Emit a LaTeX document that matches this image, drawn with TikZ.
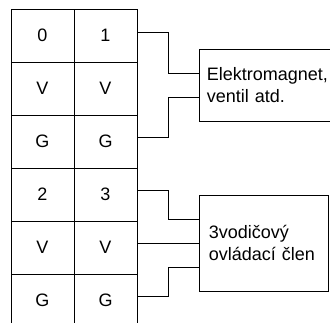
\documentclass[tikz,border=0pt]{standalone}
\usepackage{fontspec}
\setmainfont{Liberation Sans}
\usepackage{tikz}

\begin{document}
\begin{tikzpicture}[x=1pt, y=-1pt, line width=0.7pt,
    cell/.style={rectangle, draw, minimum width=63pt, minimum height=53pt, inner sep=0pt},
    txt/.style={font=\fontsize{18}{22}\selectfont},
    unit/.style={rectangle, draw, anchor=north west, align=left, inner ysep=0pt}]
            \clip (0,0) rectangle (330,322);
            % Terminal block, upper half
            \node[cell, txt] (a0) at (42.5,35.5) {0};
            \node[cell, txt] (b0) at (105.5,35.5) {1};
            \node[cell, txt] (a1) at (42.5,88.5) {V};
            \node[cell, txt] (b1) at (105.5,88.5) {V};
            \node[cell, txt] (a2) at (42.5,141.5) {G};
            \node[cell, txt] (b2) at (105.5,141.5) {G};
            % Terminal block, lower half
            \node[cell, txt] (a3) at (42.5,194.5) {2};
            \node[cell, txt] (b3) at (105.5,194.5) {3};
            \node[cell, txt] (a4) at (42.5,247.5) {V};
            \node[cell, txt] (b4) at (105.5,247.5) {V};
            \node[cell, txt] (a5) at (42.5,300.5) {G};
            \node[cell, txt] (b5) at (105.5,300.5) {G};
            % Devices
            \node[unit, txt, minimum width=140pt, minimum height=72pt, text width=125pt, inner xsep=7.5pt] (magnet) at (199,49) {Elektromagnet,\\ventil atd.};
            \node[unit, txt, minimum width=129pt, minimum height=96pt, text width=110pt, inner xsep=9.5pt] (driver) at (199,195) {3vodičový\\ovládací člen};
            % Wires to the magnet
            \draw ([yshift=3pt]b0.east) -- ++(31,0) |- ([yshift=12.3pt]magnet.west);
            \draw ([yshift=4pt]b2.east) -- ++(31,0) |- ([yshift=-12.3pt]magnet.west);
            % Wires to the driver
            \draw ([yshift=4pt]b3.east) -- ++(31,0) |- ([yshift=24pt]driver.west);
            \draw (b4.east |- driver.west) -- (driver.west);
            \draw ([yshift=4.5pt]b5.east) -- ++(31,0) |- ([yshift=-24pt]driver.west);
        \end{tikzpicture}
\end{document}
